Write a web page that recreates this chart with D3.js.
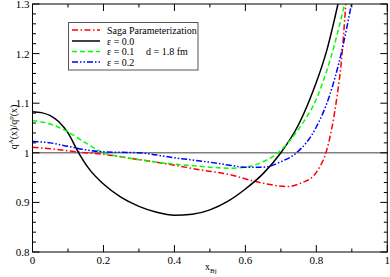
<!DOCTYPE html>
<html><head><meta charset="utf-8">
<script src="https://cdn.jsdelivr.net/npm/d3@7"></script>
<style>body{margin:0;background:#fff}svg{display:block}text{font-family:"Liberation Serif","DejaVu Serif",serif}</style>
</head><body><svg id="c" width="390" height="277"></svg>
<script>
const xTicks = [0, 0.2, 0.4, 0.6, 0.8, 1];
const yTicks = [0.8, 0.9, 1, 1.1, 1.2, 1.3];
const sagaX = [0, 0.05, 0.1, 0.15, 0.2, 0.275, 0.35, 0.4, 0.47, 0.556, 0.613, 0.66, 0.72, 0.76, 0.79, 0.81, 0.827, 0.845, 0.859, 0.87, 0.883];
const sagaY = [1.011, 1.008, 1.004, 1.0, 0.997, 0.989, 0.981, 0.975, 0.966, 0.956, 0.945, 0.937, 0.932, 0.94, 0.952, 0.972, 1.0, 1.055, 1.117, 1.18, 1.3];
const e0X = [0, 0.025, 0.05, 0.075, 0.1, 0.13, 0.16, 0.2, 0.25, 0.3, 0.35, 0.4, 0.45, 0.5, 0.55, 0.6, 0.65, 0.7, 0.75, 0.78, 0.8, 0.83, 0.861];
const e0Y = [1.083, 1.081, 1.075, 1.062, 1.04, 1.0, 0.967, 0.937, 0.91, 0.892, 0.88, 0.874, 0.876, 0.885, 0.902, 0.927, 0.958, 1.0, 1.057, 1.105, 1.142, 1.208, 1.3];
const e1X = [0, 0.05, 0.1, 0.15, 0.2, 0.25, 0.3, 0.35, 0.4, 0.45, 0.5, 0.55, 0.6, 0.65, 0.692, 0.75, 0.805, 0.84, 0.88];
const e1Y = [1.065, 1.058, 1.042, 1.02, 1.0, 0.992, 0.986, 0.981, 0.977, 0.974, 0.971, 0.969, 0.971, 0.982, 1.0, 1.048, 1.117, 1.19, 1.3];
const e2X = [0, 0.05, 0.1, 0.15, 0.2, 0.3, 0.4, 0.5, 0.556, 0.6, 0.65, 0.7, 0.744, 0.8, 0.838, 0.87, 0.899];
const e2Y = [1.023, 1.02, 1.013, 1.006, 1.002, 1.0, 0.99, 0.981, 0.975, 0.971, 0.971, 0.982, 1.0, 1.052, 1.117, 1.2, 1.3];
const seriesNames = ["Saga Parameterization", "\u03b5 = 0.0", "\u03b5 = 0.1", "\u03b5 = 0.2"];

const svg = d3.select("#c");
const L = 32.5, R = 387.3, T = 4, B = 252;
const x = d3.scaleLinear().domain([0, 1]).range([L, R]);
const y = d3.scaleLinear().domain([0.8, 1.3]).range([B, T]);

const series = [
  {xs: sagaX, ys: sagaY, color: "#ff0000", dash: "6,2.5,1.5,2.5"},
  {xs: e0X, ys: e0Y, color: "#000000", dash: null},
  {xs: e1X, ys: e1Y, color: "#00ff00", dash: "5,3"},
  {xs: e2X, ys: e2Y, color: "#0000ff", dash: "6,2,1.5,2,1.5,2"}
];

svg.append("clipPath").attr("id", "clip").append("rect")
  .attr("x", L).attr("y", T).attr("width", R - L).attr("height", B - T);

// reference line
svg.append("line").attr("x1", L).attr("x2", R).attr("y1", y(1)).attr("y2", y(1))
  .attr("stroke", "#808080").attr("stroke-width", 1.5);

const line = d3.line().x(d => x(d[0])).y(d => y(d[1])).curve(d3.curveMonotoneX);
const g = svg.append("g").attr("clip-path", "url(#clip)");
series.forEach(s => {
  const pts = s.xs.map((v, i) => [v, s.ys[i]]);
  g.append("path").attr("d", line(pts)).attr("fill", "none")
    .attr("stroke", s.color).attr("stroke-width", 1.5)
    .attr("stroke-dasharray", s.dash);
});

// axes
const minorX = d3.range(0, 1.0001, 0.1);
const minorY = d3.range(0.8, 1.3001, 0.02);
const ax = svg.append("g").attr("stroke", "#000").attr("stroke-width", 1);
minorX.forEach(v => {
  const major = Math.abs(v * 5 - Math.round(v * 5)) < 1e-6;
  const len = major ? 7 : 3.5;
  ax.append("line").attr("x1", x(v)).attr("x2", x(v)).attr("y1", B).attr("y2", B - len);
  ax.append("line").attr("x1", x(v)).attr("x2", x(v)).attr("y1", T).attr("y2", T + len);
});
minorY.forEach(v => {
  const major = Math.abs(v * 10 - Math.round(v * 10)) < 1e-6;
  const len = major ? 7 : 3.5;
  ax.append("line").attr("y1", y(v)).attr("y2", y(v)).attr("x1", L).attr("x2", L + len);
  ax.append("line").attr("y1", y(v)).attr("y2", y(v)).attr("x1", R).attr("x2", R - len);
});
svg.append("rect").attr("x", L).attr("y", T).attr("width", R - L).attr("height", B - T)
  .attr("fill", "none").attr("stroke", "#000").attr("stroke-width", 1);

const fmt = v => (v === 0 || v === 1) ? String(v) : d3.format(".1f")(v);
svg.append("g").selectAll("text").data(xTicks).join("text")
  .attr("x", d => x(d)).attr("y", 264).attr("text-anchor", "middle")
  .attr("font-size", 11).text(fmt);
svg.append("g").selectAll("text").data(yTicks).join("text")
  .attr("x", 29.5).attr("y", d => y(d) + 4).attr("text-anchor", "end")
  .attr("font-size", 11).text(fmt);

// axis labels
const xl = svg.append("text").attr("x", 205).attr("y", 270).attr("font-size", 10);
xl.append("tspan").text("x");
xl.append("tspan").attr("font-size", 7).attr("dy", 3).text("Bj");

const yl = svg.append("text").attr("transform", "translate(17,127) rotate(-90)")
  .attr("text-anchor", "middle").attr("font-size", 10);
yl.append("tspan").text("q");
yl.append("tspan").attr("font-size", 7).attr("dy", -4).text("A");
yl.append("tspan").attr("dy", 4).text("(x)/q");
yl.append("tspan").attr("font-size", 7).attr("dy", -4).text("p");
yl.append("tspan").attr("dy", 4).text("(x)");

// legend
const lg = svg.append("g");
lg.append("rect").attr("x", 68.5).attr("y", 22.5).attr("width", 129.5).attr("height", 47.5)
  .attr("fill", "#fff").attr("stroke", "#555").attr("stroke-width", 1);
const rowsY = [30, 41, 51.5, 62];
series.forEach((s, i) => {
  lg.append("line").attr("x1", 72).attr("x2", 100).attr("y1", rowsY[i]).attr("y2", rowsY[i])
    .attr("stroke", s.color).attr("stroke-width", 1.5).attr("stroke-dasharray", s.dash);
  lg.append("text").attr("x", 107).attr("y", rowsY[i] + 3.5).attr("font-size", 10).text(seriesNames[i]);
});
lg.append("text").attr("x", 146).attr("y", 55).attr("font-size", 10).text("d = 1.8 fm");
</script></body></html>
